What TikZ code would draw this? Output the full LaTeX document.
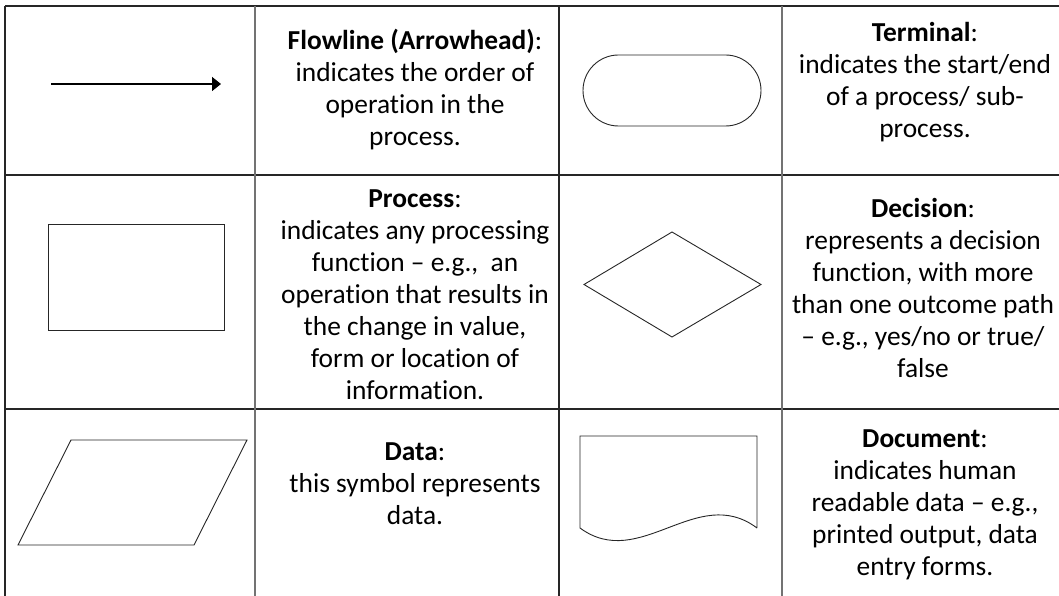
\documentclass[tikz,border=0pt]{standalone}
\usepackage{fontspec}
\setmainfont{Carlito}[Ligatures=NoCommon,Contextuals=NoAlternate,RawFeature={-liga;-clig;-calt;-dlig}]
\usetikzlibrary{arrows.meta}
\begin{document}
\begin{tikzpicture}[x=1pt,y=-1pt,
  grid/.style={draw=black!85,line width=1.4pt},
  gridlight/.style={draw=black!55,line width=1.4pt},
  symb/.style={draw=black!85,line width=0.9pt},
  celltext/.style={align=center,inner sep=0pt,font=\fontsize{27.4}{32}\selectfont}]
\useasboundingbox (0,0) rectangle (1059,596);
% grid
\draw[grid] (5,6) -- (1059,6);
\draw[grid] (5,175) -- (1059,175);
\draw[grid] (5,409) -- (1059,409);
\draw[grid] (5,6) -- (5,596);
\draw[gridlight] (255,6) -- (255,596);
\draw[grid] (559,6) -- (559,596);
\draw[gridlight] (782,6) -- (782,596);
% row 1
\coordinate (a1) at (51,84);
\coordinate (a2) at (221,84);
\draw[line width=1.6pt,-{Triangle[length=9pt,width=14pt]}] (a1) -- (a2);
\node[celltext] (t1) at (415,90) {\textbf{Flowline (Arrowhead)}:\\indicates the order of\\operation in the\\process.};
\draw[symb,rounded corners=35.5pt] (583,55) rectangle (761,126);
\node[celltext] (t2) at (925,82) {\textbf{Terminal}:\\indicates the start/end\\of a process/ sub-\\process.};
% row 2
\draw[symb] (48,224) rectangle (224,330);
\node[celltext] (t3) at (415,295) {\textbf{Process}:\\indicates any processing\\function -- e.g.,~ an\\operation that results in\\the change in value,\\form or location of\\information.};
\draw[symb] (584,284.5) -- (672,232) -- (761,284.5) -- (672,337) -- cycle;
\node[celltext] (t4) at (923,288) {\textbf{Decision}:\\represents a decision\\function, with more\\than one outcome path\\-- e.g., yes/no or true/\\false};
% row 3
\draw[symb] (71,440) -- (247,440) -- (194,545) -- (18,545) -- cycle;
\node[celltext] (t5) at (415,484) {\textbf{Data}:\\this symbol represents\\data.};
\draw[symb] (757,528) -- (757,436) -- (580,436) -- (580,528)
  .. controls (640,572) and (697,483) .. (757,528);
\node[celltext] (t6) at (925,505) {\textbf{Document}:\\indicates human\\readable data -- e.g.,\\printed output, data\\entry forms.};
\end{tikzpicture}
\end{document}
